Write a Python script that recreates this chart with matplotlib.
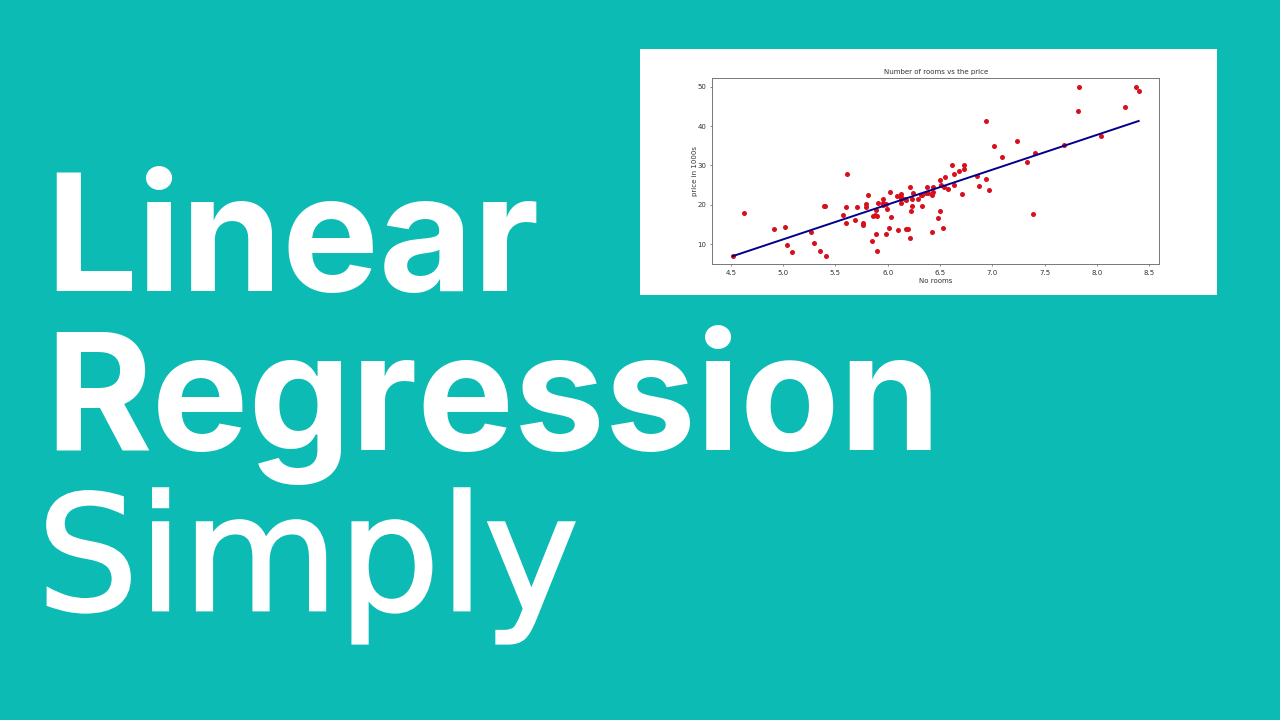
import matplotlib
matplotlib.use('Agg')
import matplotlib.pyplot as plt
import matplotlib.patheffects as pe
from matplotlib.patches import Rectangle

# punkty z wykresu (pokoje, cena)
rooms = [4.52, 4.63, 4.91, 5.02, 5.04, 5.09, 5.27, 5.30, 5.35, 5.41, 5.39, 5.40,
         5.61, 5.57, 5.60, 5.60, 5.69, 5.71, 5.76, 5.76, 5.79, 5.79, 5.81, 5.85,
         5.86, 5.88, 5.90, 5.89, 5.89, 5.90, 5.91, 5.96, 5.96, 5.96, 5.98, 5.99,
         5.98, 6.01, 6.02, 6.03, 6.09, 6.10, 6.13, 6.13, 6.13, 6.13, 6.17, 6.18,
         6.18, 6.19, 6.21, 6.21, 6.23, 6.23, 6.22, 6.24, 6.29, 6.32, 6.33, 6.33,
         6.38, 6.37, 6.39, 6.42, 6.42, 6.43, 6.43, 6.50, 6.50, 6.48, 6.53, 6.51,
         6.55, 6.54, 6.58, 6.63, 6.62, 6.63, 6.68, 6.73, 6.73, 6.71, 6.85, 6.87,
         6.94, 6.97, 6.94, 7.02, 7.09, 7.24, 7.33, 7.41, 7.39, 7.69, 7.82, 7.83,
         8.04, 8.27, 8.37, 8.40]
price = [7.0, 17.9, 13.8, 14.4, 9.7, 8.1, 13.1, 10.4, 8.3, 7.0, 19.7, 19.6,
         27.9, 17.5, 15.4, 19.4, 16.2, 19.4, 15.5, 15.0, 20.2, 19.4, 22.4, 10.8,
         17.3, 17.4, 17.2, 18.6, 12.7, 8.3, 20.6, 21.6, 20.5, 19.9, 20.1, 19.0,
         12.7, 14.1, 23.2, 16.8, 22.2, 13.5, 22.7, 22.1, 20.4, 21.4, 21.5, 21.2,
         14.0, 13.8, 11.7, 24.6, 21.4, 19.6, 18.4, 23.0, 21.4, 22.4, 22.5, 19.6,
         24.6, 23.0, 23.1, 13.0, 22.6, 24.5, 23.2, 26.3, 18.4, 16.7, 14.1, 25.0,
         27.1, 24.5, 24.1, 27.9, 30.1, 25.1, 28.6, 30.1, 29.0, 22.8, 27.4, 24.8,
         26.6, 23.9, 41.3, 34.9, 32.2, 36.1, 31.0, 33.1, 17.8, 35.2, 43.8, 50.0,
         37.6, 44.8, 50.0, 48.8]

# linia regresji
line_x = [4.52, 8.40]
line_y = [7.0, 41.3]

x_ticks = [4.5, 5.0, 5.5, 6.0, 6.5, 7.0, 7.5, 8.0, 8.5]
y_ticks = [10, 20, 30, 40, 50]

W, H = 1280, 720
BG = '#0cbbb4'

fig = plt.figure(figsize=(W / 100, H / 100), dpi=100, facecolor=BG)

# biale tlo pod wykresem
fig.patches.append(Rectangle((640 / W, 1 - 295 / H), 577 / W, 246 / H,
                             transform=fig.transFigure, facecolor='white',
                             edgecolor='none', zorder=0))

ax = fig.add_axes([712 / W, 1 - 264.3 / H, 447.3 / W, 186 / H], zorder=2)
ax.scatter(rooms, price, color='#d8101c', s=13, linewidths=0, zorder=2)
ax.plot(line_x, line_y, color='#00008b', linewidth=1.4, zorder=3)

ax.set_xlim(4.321, 8.597)
ax.set_ylim(4.92, 52.13)
ax.set_xticks(x_ticks)
ax.set_yticks(y_ticks)
ax.tick_params(labelsize=5, length=1.4, width=0.4, pad=2.5, colors='#333333')
for spine in ax.spines.values():
    spine.set_linewidth(0.7)
    spine.set_color('#777777')

ax.set_title('Number of rooms vs the price', fontsize=5, color='#333333', pad=3)
ax.set_xlabel('No rooms', fontsize=5, color='#333333', labelpad=1.5)
ax.set_ylabel('price in 1000s', fontsize=5, color='#333333', labelpad=0)

# duzy napis
fig.text(45 / W, 1 - 291 / H, 'Linear', color='white', fontsize=117,
         fontweight='bold', family=['Inter', 'DejaVu Sans'], ha='left', va='baseline')
fig.text(45 / W, 1 - 450 / H, 'Regression', color='white', fontsize=117,
         fontweight='bold', family=['Inter', 'DejaVu Sans'], ha='left', va='baseline')
simply = fig.text(37 / W, 1 - 610 / H, 'Simply', color='white', fontsize=115,
                  fontweight='normal', family='DejaVu Sans', ha='left', va='baseline')
# grubsze litery niz zwykly DejaVu
simply.set_path_effects([pe.withStroke(linewidth=2, foreground='white',
                                       joinstyle='miter')])

fig.savefig('out.png', dpi=100, facecolor=BG)
